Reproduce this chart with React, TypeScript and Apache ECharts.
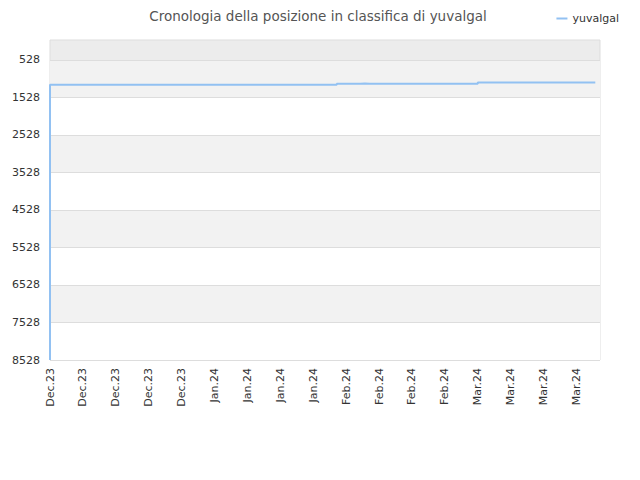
import { useEffect, useRef } from "react";
import * as echarts from "echarts";

// one category per day, Dec 1 2023 -> Mar 27 2024
const dates: string[] = [
  "2023-12-01", "2023-12-02", "2023-12-03", "2023-12-04", "2023-12-05", "2023-12-06", "2023-12-07",
  "2023-12-08", "2023-12-09", "2023-12-10", "2023-12-11", "2023-12-12", "2023-12-13", "2023-12-14",
  "2023-12-15", "2023-12-16", "2023-12-17", "2023-12-18", "2023-12-19", "2023-12-20", "2023-12-21",
  "2023-12-22", "2023-12-23", "2023-12-24", "2023-12-25", "2023-12-26", "2023-12-27", "2023-12-28",
  "2023-12-29", "2023-12-30", "2023-12-31", "2024-01-01", "2024-01-02", "2024-01-03", "2024-01-04",
  "2024-01-05", "2024-01-06", "2024-01-07", "2024-01-08", "2024-01-09", "2024-01-10", "2024-01-11",
  "2024-01-12", "2024-01-13", "2024-01-14", "2024-01-15", "2024-01-16", "2024-01-17", "2024-01-18",
  "2024-01-19", "2024-01-20", "2024-01-21", "2024-01-22", "2024-01-23", "2024-01-24", "2024-01-25",
  "2024-01-26", "2024-01-27", "2024-01-28", "2024-01-29", "2024-01-30", "2024-01-31", "2024-02-01",
  "2024-02-02", "2024-02-03", "2024-02-04", "2024-02-05", "2024-02-06", "2024-02-07", "2024-02-08",
  "2024-02-09", "2024-02-10", "2024-02-11", "2024-02-12", "2024-02-13", "2024-02-14", "2024-02-15",
  "2024-02-16", "2024-02-17", "2024-02-18", "2024-02-19", "2024-02-20", "2024-02-21", "2024-02-22",
  "2024-02-23", "2024-02-24", "2024-02-25", "2024-02-26", "2024-02-27", "2024-02-28", "2024-02-29",
  "2024-03-01", "2024-03-02", "2024-03-03", "2024-03-04", "2024-03-05", "2024-03-06", "2024-03-07",
  "2024-03-08", "2024-03-09", "2024-03-10", "2024-03-11", "2024-03-12", "2024-03-13", "2024-03-14",
  "2024-03-15", "2024-03-16", "2024-03-17", "2024-03-18", "2024-03-19", "2024-03-20", "2024-03-21",
  "2024-03-22", "2024-03-23", "2024-03-24", "2024-03-25", "2024-03-26", "2024-03-27",
];

// ranking position of yuvalgal (lower = better)
const positions: (number | null)[] = [
  8528,
  1190, 1190, 1190, 1190, 1190, 1190, 1190, 1190, 1190, 1190, 1190, 1190, 1190,
  1185, 1185,
  1190, 1190, 1190, 1190, 1190, 1190, 1190, 1190, 1190, 1190, 1190, 1190, 1190, 1190,
  1190, 1190, 1190, 1190, 1190, 1190, 1190, 1190, 1190, 1190, 1190, 1190, 1190, 1190,
  1190, 1190, 1190, 1190, 1190, 1190, 1190,
  1185,
  1190, 1190, 1190,
  1185, 1185,
  1187,
  1190, 1190, 1190, 1190,
  1160, 1160, 1160, 1160, 1160,
  1156,
  1160, 1160, 1160, 1160, 1160, 1160, 1160, 1160, 1160, 1160, 1160, 1160,
  1160, 1160, 1160, 1160, 1160, 1160, 1160, 1160, 1160, 1160, 1160, 1160,
  1130, 1130, 1130, 1130, 1130, 1130, 1130, 1130, 1130, 1130, 1130, 1130, 1130,
  1130, 1130, 1130, 1130, 1130, 1130, 1130, 1130, 1130, 1130, 1130, 1130,
  null,
];

const yTicks = [528, 1528, 2528, 3528, 4528, 5528, 6528, 7528, 8528];
const monthNames = ["Jan", "Feb", "Mar", "Apr", "May", "Jun", "Jul", "Aug", "Sep", "Oct", "Nov", "Dec"];

const fontFamily = "'DejaVu Sans', sans-serif";

const formatMonth = (d: string) => {
  const [y, m] = d.split("-");
  return `${monthNames[Number(m) - 1]}.${y.slice(2)}`;
};

const App = () => {
  const chartRef = useRef<HTMLDivElement>(null);

  useEffect(() => {
    if (!chartRef.current) {
      return;
    }
    const chart = echarts.init(chartRef.current, null, { renderer: "svg" });

    const option: echarts.EChartsOption = {
      animation: false,
      title: {
        text: "Cronologia della posizione in classifica di yuvalgal",
        left: 313,
        textAlign: "center",
        top: 4,
        textStyle: {
          fontFamily,
          fontSize: 13.5,
          fontWeight: "normal",
          color: "#555555",
        },
      },
      legend: {
        right: 16,
        top: 8,
        itemWidth: 11,
        itemHeight: 2,
        itemGap: 5,
        icon: "rect",
        textStyle: { fontFamily, fontSize: 11, color: "#333333" },
        data: ["yuvalgal"],
      },
      grid: {
        left: 50,
        right: 40,
        top: 40,
        bottom: 120,
        show: true,
        backgroundColor: "#ececec",
        borderColor: "#dddddd",
        borderWidth: 1,
      },
      xAxis: {
        type: "category",
        data: dates,
        boundaryGap: false,
        axisLine: { show: false },
        axisTick: { show: false },
        splitLine: { show: false },
        axisLabel: {
          interval: 6,
          rotate: 90,
          margin: 8,
          fontFamily,
          fontSize: 11,
          color: "#333333",
          formatter: (v: string) => formatMonth(v),
        },
      },
      yAxis: {
        type: "value",
        inverse: true,
        min: -5,
        max: 8528,
        axisLine: { show: false },
        axisTick: { show: false, customValues: yTicks },
        axisLabel: {
          customValues: yTicks,
          margin: 10,
          fontFamily,
          fontSize: 11,
          color: "#333333",
          formatter: (v: number) => String(v),
        },
        splitLine: { show: true, lineStyle: { color: "#dddddd", width: 1 } },
        splitArea: {
          show: true,
          areaStyle: { color: ["#f2f2f2", "#ffffff"] },
        },
      },
      series: [
        {
          name: "yuvalgal",
          type: "line",
          data: positions,
          step: "start",
          showSymbol: false,
          color: "#92c1f2",
          lineStyle: { width: 2, color: "#92c1f2" },
        },
      ],
    };

    chart.setOption(option);

    return () => {
      chart.dispose();
    };
  }, []);

  return <div ref={chartRef} style={{ width: 640, height: 480, margin: -8 }} />;
};

export default App;
